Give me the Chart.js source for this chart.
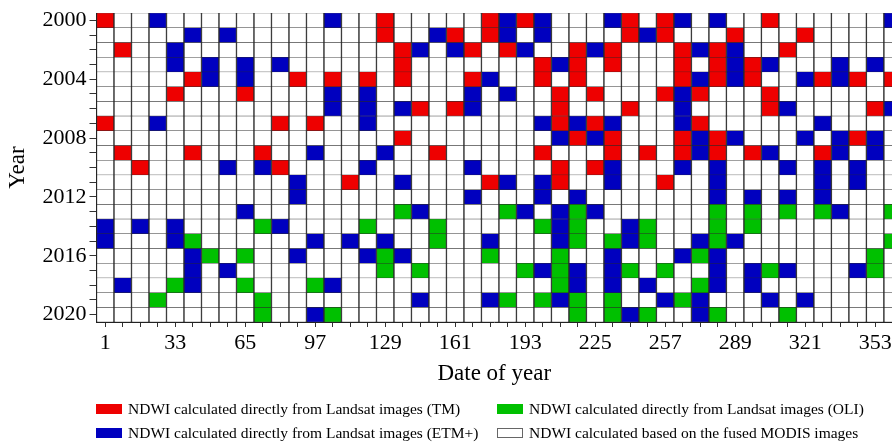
<!DOCTYPE html>
<html>
<head>
<meta charset="utf-8">
<script src="https://cdn.jsdelivr.net/npm/chart.js@4.4.1/dist/chart.umd.min.js"></script>
<style>
  html, body { margin: 0; padding: 0; background: #fff; }
  #wrap { position: relative; width: 892px; height: 444px; overflow: hidden; }
  #legend {
    position: absolute; left: 96px; top: 397px;
    display: grid; grid-template-columns: 401px auto; grid-auto-rows: 24px;
    font: 15.5px 'Liberation Serif', 'Times New Roman', serif; color: #000;
  }
  .item { display: flex; align-items: center; white-space: nowrap; }
  .swatch { width: 26px; height: 10px; margin-right: 6px; box-sizing: border-box; border: 1px solid; }
</style>
</head>
<body>
<div id="wrap">
  <canvas id="chart" width="892" height="444"></canvas>
  <div id="legend"></div>
</div>
<script>
// ── data ─────────────────────────────────────────────────────────────────────
const days = [1, 9, 17, 25, 33, 41, 49, 57, 65, 73, 81, 89, 97, 105, 113, 121,
              129, 137, 145, 153, 161, 169, 177, 185, 193, 201, 209, 217, 225,
              233, 241, 249, 257, 265, 273, 281, 289, 297, 305, 313, 321, 329,
              337, 345, 353, 361];
const years = [2000, 2001, 2002, 2003, 2004, 2005, 2006, 2007, 2008, 2009, 2010,
               2011, 2012, 2013, 2014, 2015, 2016, 2017, 2018, 2019, 2020];
const xTickLabels = [1, 33, 65, 97, 129, 161, 193, 225, 257, 289, 321, 353];
const yTickLabels = [2000, 2004, 2008, 2012, 2016, 2020];

// R = TM, B = ETM+, G = OLI, . = fused MODIS  (one char per date, grouped by 10)
const sensorCodes  = ['R', 'G', 'B', '.'];
const sensorLabels = [
  'NDWI calculated directly from Landsat images (TM)',
  'NDWI calculated directly from Landsat images (OLI)',
  'NDWI calculated directly from Landsat images (ETM+)',
  'NDWI calculated based on the fused MODIS images',
];
const rows = [
  "R..B...... ...B..R... ..RBRB...B R.RB.B..R. .....B", // 2000
  ".....B.B.. ......R..B R.RB.B.... RBR...R... R.....", // 2001
  ".R..B..... .......RB. BR.RB..RBR ...RBRB..R ......", // 2002
  "....B.B.B. B......R.. .....RBR.R ...R.RBRB. ..B.B.", // 2003
  ".....RB.B. .R.R.R.R.. .RB..R.R.. ...RBRBR.. BRBR.R", // 2004
  "....R...R. ...B.B.... .B.B..R.R. ..RBR...R. ......", // 2005
  ".......... ...B.B.BR. RB....R... R..B....RB ....RB", // 2006
  "R..B...... R.R..B.... .....BRBRB ...BR..... .B....", // 2007
  ".......... .......R.. ......BRBR ...RBRB... B.BRB.", // 2008
  ".R...R...R ..B...B..R .....R...R .R.RBR.RB. .RB.B.", // 2009
  "..R....B.B R....B.... .B....R.RB ...B.B...B .B.B..", // 2010
  ".......... .B..R..B.. ..RB.BR..B ..R..B.... .B.B..", // 2011
  ".......... .B........ .B...B.B.. .....B.B.B .B....", // 2012
  "........B. .......GB. ...GB.BGB. .....G.G.G .GB..G", // 2013
  "B.B.B....G B....G...G .....GBG.. BG...G.G.. ......", // 2014
  "B...BG.... ..B.B.B..G ..B...BG.G BG..BGB... .....G", // 2015
  ".....BG.G. .B...BGB.. ..G...G..B ...BGB.... ....G.", // 2016
  ".....B.B.. ......G.G. ....GBGB.B G.G..B.BGB ...BG.", // 2017
  ".B..GB..G. ..GB...... ......GB.B .B..GB.B.. ......", // 2018
  "...G.....G ........B. ..BG.GBG.G ..BGB...B. B.....", // 2019
  ".........G ..BG...... .......G.G BG..BG...G ......", // 2020
];

// ── styles ───────────────────────────────────────────────────────────────────
const palette = { R: '#ee0000', B: '#0000bf', G: '#00c000', '.': '#ffffff' };
const FONT = "'Liberation Serif', 'Times New Roman', serif";

// one floating-bar dataset per year, one bar per date
const datasets = years.map((yr, r) => {
  const codes = rows[r].replace(/\s/g, '').split('');
  return {
    label: String(yr),
    data: codes.map((_, c) => ({ x: days[c], y: [yr - 0.5, yr + 0.5] })),
    backgroundColor: codes.map(k => palette[k]),
    borderColor: '#2a2a2a',
    borderWidth: { top: 0.5, bottom: 0.5, left: 1, right: 1 },
    borderSkipped: false,
    grouped: false,
    barPercentage: 1,
    categoryPercentage: 1,
  };
});

new Chart(document.getElementById('chart'), {
  type: 'bar',
  data: { datasets },
  options: {
    responsive: false,
    devicePixelRatio: 1,
    animation: false,
    events: [],
    layout: { padding: { top: 13, right: 0, bottom: 56, left: 0 } },
    plugins: { legend: { display: false }, tooltip: { enabled: false } },
    scales: {
      x: {
        type: 'linear',
        offset: false,
        min: -3,
        max: 360.7,
        afterBuildTicks: s => { s.ticks = days.filter(d => d <= s.max).map(v => ({ value: v })); },
        afterFit: s => { s.height = 66; s.paddingLeft = 0; s.paddingRight = 0; },
        grid: { offset: false, drawOnChartArea: false, drawTicks: true, tickLength: 5, tickColor: '#333' },
        border: { display: true, color: '#222', width: 1 },
        ticks: {
          autoSkip: false, maxRotation: 0, minRotation: 0, padding: 3, color: '#000',
          font: { family: FONT, size: 22 },
          callback: v => xTickLabels.includes(v) ? String(v) : '',
        },
        title: { display: true, text: 'Date of year', color: '#000', font: { family: FONT, size: 23 }, padding: 0 },
      },
      y: {
        type: 'linear',
        reverse: true,
        min: 1999.5,
        max: 2020.5,
        afterBuildTicks: s => { s.ticks = years.map(v => ({ value: v })); },
        afterFit: s => { s.width = 96.5; s.paddingTop = 0; s.paddingBottom = 0; },
        grid: { drawOnChartArea: false, drawTicks: true, tickLength: 7, tickColor: '#333' },
        border: { display: true, color: '#222', width: 1 },
        ticks: {
          autoSkip: false, padding: 3, color: '#000',
          font: { family: FONT, size: 22 },
          callback: v => yTickLabels.includes(v) ? String(v) : '',
        },
        title: { display: true, text: 'Year', color: '#000', font: { family: FONT, size: 23 }, padding: { top: 4, bottom: 0 } },
      },
    },
  },
});

// ── legend (two columns, two rows) ───────────────────────────────────────────
const legendEl = document.getElementById('legend');
sensorCodes.forEach((code, i) => {
  const item = document.createElement('div');
  item.className = 'item';
  const sw = document.createElement('span');
  sw.className = 'swatch';
  sw.style.background = palette[code];
  sw.style.borderColor = code === '.' ? '#666' : palette[code];
  const txt = document.createElement('span');
  txt.textContent = sensorLabels[i];
  item.appendChild(sw);
  item.appendChild(txt);
  legendEl.appendChild(item);
});
</script>
</body>
</html>
